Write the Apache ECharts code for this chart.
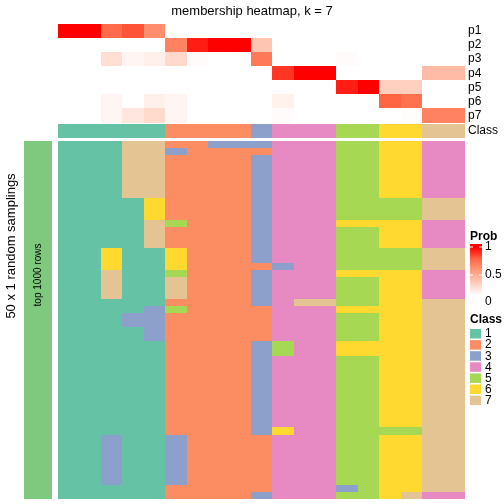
<!DOCTYPE html>
<html>
<head>
<meta charset="utf-8">
<script src="https://cdn.jsdelivr.net/npm/echarts@6/dist/echarts.min.js"></script>
<style>
html,body{margin:0;padding:0;background:#fff;}
#chart{width:504px;height:504px;}
</style>
</head>
<body>
<div id="chart"></div>
<script>
// ---------- data ----------
const titleText = 'membership heatmap, k = 7';
const probRowNames = ['p1', 'p2', 'p3', 'p4', 'p5', 'p6', 'p7'];
// membership probabilities per column (19 columns)
const probP1 = [1, 1, 0.73, 0.8, 0.58, 0, 0, 0, 0, 0, 0, 0, 0, 0, 0, 0, 0, 0, 0];
const probP2 = [0, 0, 0, 0, 0, 0.63, 0.93, 1, 1, 0.3, 0, 0, 0, 0, 0, 0, 0, 0, 0];
const probP3 = [0, 0, 0.17, 0.05, 0.08, 0.2, 0.02, 0, 0, 0.67, 0, 0, 0, 0.02, 0, 0, 0, 0, 0];
const probP4 = [0, 0, 0, 0, 0, 0, 0, 0, 0, 0, 0.87, 1, 1, 0, 0, 0, 0, 0.35, 0.35];
const probP5 = [0, 0, 0, 0, 0, 0, 0, 0, 0, 0, 0, 0, 0, 0.93, 1, 0.25, 0.25, 0, 0];
const probP6 = [0, 0, 0.05, 0, 0.08, 0.05, 0, 0, 0, 0, 0.07, 0, 0, 0, 0, 0.76, 0.71, 0, 0];
const probP7 = [0, 0, 0.05, 0.13, 0.19, 0.05, 0, 0, 0, 0, 0.02, 0, 0, 0, 0, 0, 0.01, 0.63, 0.63];
const probRows = [probP1, probP2, probP3, probP4, probP5, probP6, probP7];
// consensus class per column
const classRow = [1, 1, 1, 1, 1, 2, 2, 2, 2, 3, 4, 4, 4, 5, 5, 6, 6, 7, 7];
// class of each column in each of the 50 random samplings (one string per sampling)
const samplingRows = [
  '1117722333444556644',
  '1117732222444556644',
  '1117722223444556644',
  '1117722223444556644',
  '1117722223444556644',
  '1117722223444556644',
  '1117722223444556644',
  '1117722223444556644',
  '1111622223444555577',
  '1111622223444555577',
  '1111622223444555577',
  '1111752223444666644',
  '1111722223444556644',
  '1111722223444556644',
  '1111722223444556644',
  '1161162223444555577',
  '1161162223444555577',
  '1161162222344555577',
  '1171152223444666644',
  '1171172223444556644',
  '1171172223444556644',
  '1171172223444556644',
  '1111122223477556677',
  '1111352222444666677',
  '1113322222444556677',
  '1113322222444556677',
  '1111322222444556677',
  '1111322222444556677',
  '1111122223544666677',
  '1111122223544666677',
  '1111122223444556677',
  '1111122223444556677',
  '1111122223444556677',
  '1111122223444556677',
  '1111122223444556677',
  '1111122223444556677',
  '1111122223444556677',
  '1111122223444556677',
  '1111122223444556677',
  '1111122223444556677',
  '1111122223644555577',
  '1131132222444556677',
  '1131132222444556677',
  '1131132222444556677',
  '1131132222444556677',
  '1131132222444556677',
  '1131132222444556677',
  '1131132222444556677',
  '1111122222444356677',
  '1111122223444556744'
];
const classLabels = ['1', '2', '3', '4', '5', '6', '7'];
const classColors = ['#66C2A5', '#FC8D62', '#8DA0CB', '#E78AC3', '#A6D854', '#FFD92F', '#E5C494'];
const probTicks = ['1', '0.5', '0'];
const probColors = ['#FFFFFF', '#FFCFBF', '#FF9E81', '#FF6846', '#FF0000'];
const rowTitle = '50 x 1 random samplings';
const sliceTitle = 'top 1000 rows';

// ---------- build ----------
const nCol = classRow.length;
const colCats = classRow.map((_, i) => 'c' + i);
const rowCats = samplingRows.map((_, i) => 'r' + i);

const probData = [];
probRows.forEach((row, r) => row.forEach((v, c) => probData.push([c, r, v])));
const classData = classRow.map((v, c) => [c, 0, v]);
const mainData = [];
samplingRows.forEach((s, r) => { for (let c = 0; c < nCol; c++) mainData.push([c, r, +s[c]]); });

const FONT = 'Liberation Sans, Arial, Helvetica, sans-serif';
const L = 58, W = 407;

const hidden = { show: false };
function catAxis(data, gridIndex, extra) {
  return Object.assign({
    type: 'category', data: data, gridIndex: gridIndex,
    axisLine: hidden, axisTick: hidden, axisLabel: hidden, splitLine: hidden
  }, extra || {});
}

// cell renderer: snaps shared cell edges to whole pixels so no seams appear
function cellRenderer(fixedColor) {
  return function (params, api) {
    const c = api.coord([api.value(0), api.value(1)]);
    const s = api.size([1, 1]);
    const x0 = Math.round(c[0] - s[0] / 2), x1 = Math.round(c[0] + s[0] / 2);
    const y0 = Math.round(c[1] - s[1] / 2), y1 = Math.round(c[1] + s[1] / 2);
    return { type: 'rect', shape: { x: x0, y: y0, width: x1 - x0, height: y1 - y0 },
      style: { fill: fixedColor || api.visual('color') } };
  };
}
function cellSeries(xi, data, fixedColor) {
  return { type: 'custom', xAxisIndex: xi, yAxisIndex: xi, data: data,
    encode: { x: 0, y: 1 }, renderItem: cellRenderer(fixedColor), silent: true };
}

const graphics = [];
graphics.push({ type: 'text', left: 'center', top: 5, style: { text: titleText, font: '13px ' + FONT, fill: '#000' } });
graphics.push({ type: 'text', x: 11, y: 246, rotation: Math.PI / 2,
  style: { text: rowTitle, font: '13px ' + FONT, fill: '#000', align: 'center', verticalAlign: 'middle' } });
graphics.push({ type: 'text', x: 38.5, y: 275, rotation: Math.PI / 2, z: 10,
  style: { text: sliceTitle, font: '10px ' + FONT, fill: '#000', align: 'center', verticalAlign: 'middle' } });
// Prob legend
graphics.push({ type: 'text', x: 470, y: 237, style: { text: 'Prob', font: 'bold 12px ' + FONT, fill: '#000', verticalAlign: 'middle' } });
graphics.push({ type: 'rect', shape: { x: 470, y: 244, width: 12, height: 62 },
  style: { fill: { type: 'linear', x: 0, y: 0, x2: 0, y2: 1, colorStops: [
    { offset: 0, color: probColors[4] }, { offset: 0.05, color: probColors[4] },
    { offset: 0.245, color: probColors[3] }, { offset: 0.44, color: probColors[2] },
    { offset: 0.635, color: probColors[1] }, { offset: 0.83, color: probColors[0] }, { offset: 1, color: probColors[0] }] } } });
const tickY = [247, 275, 302];
probTicks.forEach((t, i) => {
  graphics.push({ type: 'line', shape: { x1: 470, y1: tickY[i], x2: 473, y2: tickY[i] }, style: { stroke: '#fff', lineWidth: 1 } });
  graphics.push({ type: 'line', shape: { x1: 479, y1: tickY[i], x2: 482, y2: tickY[i] }, style: { stroke: '#fff', lineWidth: 1 } });
  graphics.push({ type: 'text', x: 485, y: tickY[i], style: { text: t, font: '12px ' + FONT, fill: '#000', verticalAlign: 'middle' } });
});
// Class legend
graphics.push({ type: 'text', x: 470, y: 320, style: { text: 'Class', font: 'bold 12px ' + FONT, fill: '#000', verticalAlign: 'middle' } });
classLabels.forEach((lab, i) => {
  const y0 = 329 + i * 11.1;
  graphics.push({ type: 'rect', shape: { x: 470, y: y0, width: 11, height: 9.5 }, style: { fill: classColors[i] } });
  graphics.push({ type: 'text', x: 485, y: y0 + 5, style: { text: lab, font: '12px ' + FONT, fill: '#000', verticalAlign: 'middle' } });
});

const labelStyle = { show: true, interval: 0, margin: 3, fontSize: 12, fontFamily: FONT, color: '#000' };
const option = {
  animation: false,
  backgroundColor: '#fff',
  grid: [
    { left: L, top: 24, width: W, height: 98.5 },
    { left: L, top: 124, width: W, height: 13.5 },
    { left: L, top: 141, width: W, height: 358 },
    { left: 24, top: 141, width: 28, height: 358 }
  ],
  xAxis: [
    catAxis(colCats, 0), catAxis(colCats, 1), catAxis(colCats, 2), catAxis(['a'], 3)
  ],
  yAxis: [
    catAxis(probRowNames, 0, { inverse: true, position: 'right', axisLabel: labelStyle }),
    catAxis(['Class'], 1, { position: 'right', axisLabel: labelStyle }),
    catAxis(rowCats, 2, { inverse: true }),
    catAxis(['a'], 3)
  ],
  visualMap: [
    { type: 'continuous', min: 0, max: 1, dimension: 2, seriesIndex: 0, show: false, inRange: { color: probColors } },
    { type: 'piecewise', dimension: 2, seriesIndex: [1, 2], show: false,
      pieces: classLabels.map((l, i) => ({ value: i + 1, color: classColors[i] })) }
  ],
  series: [
    cellSeries(0, probData),
    cellSeries(1, classData),
    cellSeries(2, mainData),
    cellSeries(3, [[0, 0, 1]], '#7FC97F')
  ],
  graphic: graphics
};

const chart = echarts.init(document.getElementById('chart'), null, { renderer: 'canvas' });
chart.setOption(option);
</script>
</body>
</html>
